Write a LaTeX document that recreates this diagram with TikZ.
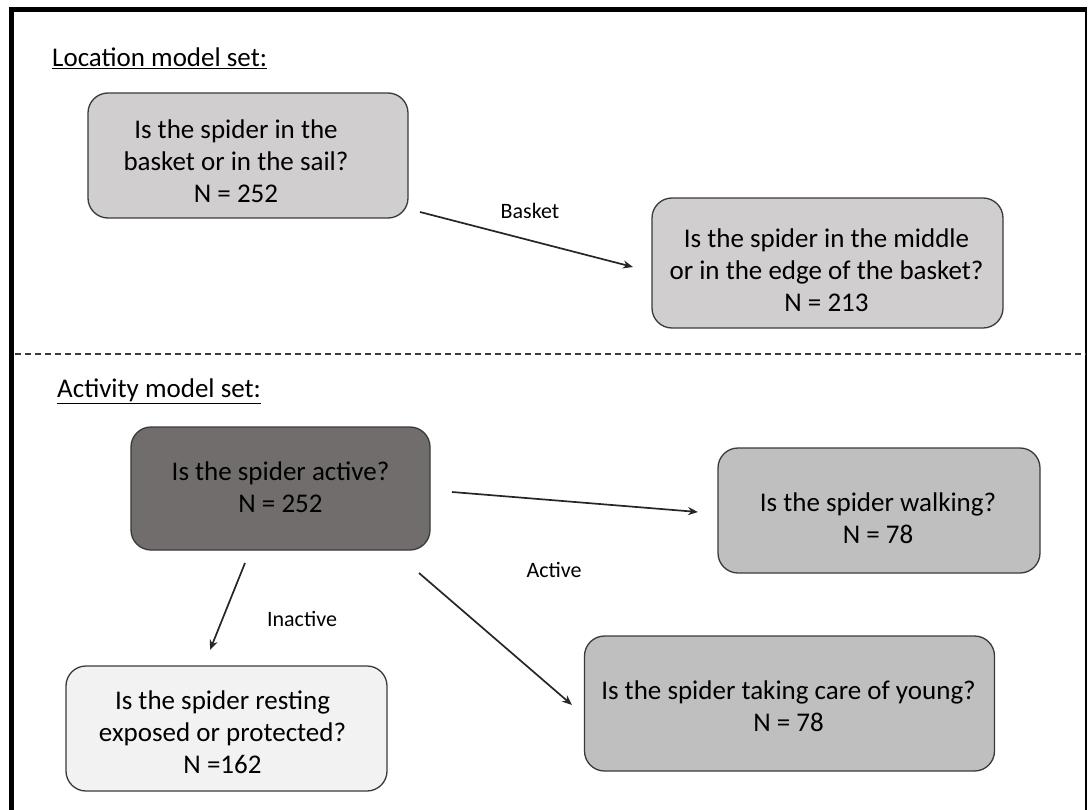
\documentclass[tikz,border=0pt]{standalone}
\usepackage{fontspec}
\setmainfont{Carlito}
\usetikzlibrary{arrows.meta}
\definecolor{boxlight}{HTML}{D0CECE}
\definecolor{boxdark}{HTML}{716D6C}
\definecolor{boxmid}{HTML}{BFBFBF}
\definecolor{boxpale}{HTML}{F2F2F2}
\definecolor{edgecol}{HTML}{3A3A3A}
\definecolor{conncol}{HTML}{262626}
\tikzset{
  qbox/.style={draw=edgecol, line width=1.3bp, rounded corners=20bp, inner sep=0pt},
  qtext/.style={align=center, inner sep=0pt, font=\fontsize{27bp}{32bp}\selectfont},
  conn/.style={draw=conncol, line width=1.7bp, -{Stealth[length=10bp,width=8bp]}},
  lbl/.style={font=\fontsize{22bp}{26bp}\selectfont, inner sep=0pt},
  ttl/.style={font=\fontsize{27bp}{32bp}\selectfont, inner sep=0pt, anchor=west},
}
\begin{document}
\begin{tikzpicture}[x=1bp, y=-1bp]
\useasboundingbox (0,0) rectangle (1088,810);
% frame
\draw[line width=5bp] (9,9.5) -- (1087,9.5);
\draw[line width=5bp] (11.5,7) -- (11.5,810);
\draw[line width=2bp] (1086,9) -- (1086,810);
\draw[dashed, line width=1.5bp, dash pattern=on 6bp off 4bp, edgecol] (15,354) -- (1086,354);
% titles
\node[ttl] (t1) at (52,58) {\underline{Location model set:}};
\node[ttl] (t2) at (57,391) {\underline{Activity model set:}};
% boxes
\node[qbox, fill=boxlight, minimum width=320bp, minimum height=125bp] (b1) at (248,155.5) {};
\node[qbox, fill=boxlight, minimum width=351bp, minimum height=130bp] (b2) at (827.5,263) {};
\node[qbox, fill=boxdark, minimum width=299bp, minimum height=123bp] (b3) at (280.5,488.5) {};
\node[qbox, fill=boxmid, minimum width=322bp, minimum height=125bp] (b4) at (879,510.5) {};
\node[qbox, fill=boxpale, minimum width=321bp, minimum height=125bp] (b5) at (226.5,728.5) {};
\node[qbox, fill=boxmid, minimum width=410bp, minimum height=135bp] (b6) at (789.5,703.5) {};
% box texts
\node[qtext] (q1) at ([shift={(-12,6)}]b1.center) {Is the spider in the\\basket or in the sail?\\N = 252};
\node[qtext] (q2) at ([shift={(-1,7.5)}]b2.center) {Is the spider in the middle\\or in the edge of the basket?\\N = 213};
\node[qtext] (q3) at ([shift={(0,-1.5)}]b3.center) {Is the spider active?\\N = 252};
\node[qtext] (q4) at ([shift={(-1,7.5)}]b4.center) {Is the spider walking?\\N = 78};
\node[qtext] (q5) at ([shift={(-4,3.5)}]b5.center) {Is the spider resting\\exposed or protected?\\N =162};
\node[qtext] (q6) at ([shift={(-1,2.5)}]b6.center) {Is the spider taking care of young?\\N = 78};
% connector end points
\coordinate (a1s) at (420,212);
\coordinate (a1e) at (633,267);
\coordinate (a2s) at (452,492);
\coordinate (a2e) at (698,512);
\coordinate (a3s) at (245,563);
\coordinate (a3e) at (210,650);
\coordinate (a4s) at (419,573);
\coordinate (a4e) at (572,705);
\draw[conn] (a1s) -- (a1e);
\draw[conn] (a2s) -- (a2e);
\draw[conn] (a3s) -- (a3e);
\draw[conn] (a4s) -- (a4e);
% labels
\node[lbl] (l1) at (530,211) {Basket};
\node[lbl] (l2) at (554,570) {Active};
\node[lbl] (l3) at (302,619) {Inactive};
\end{tikzpicture}
\end{document}
